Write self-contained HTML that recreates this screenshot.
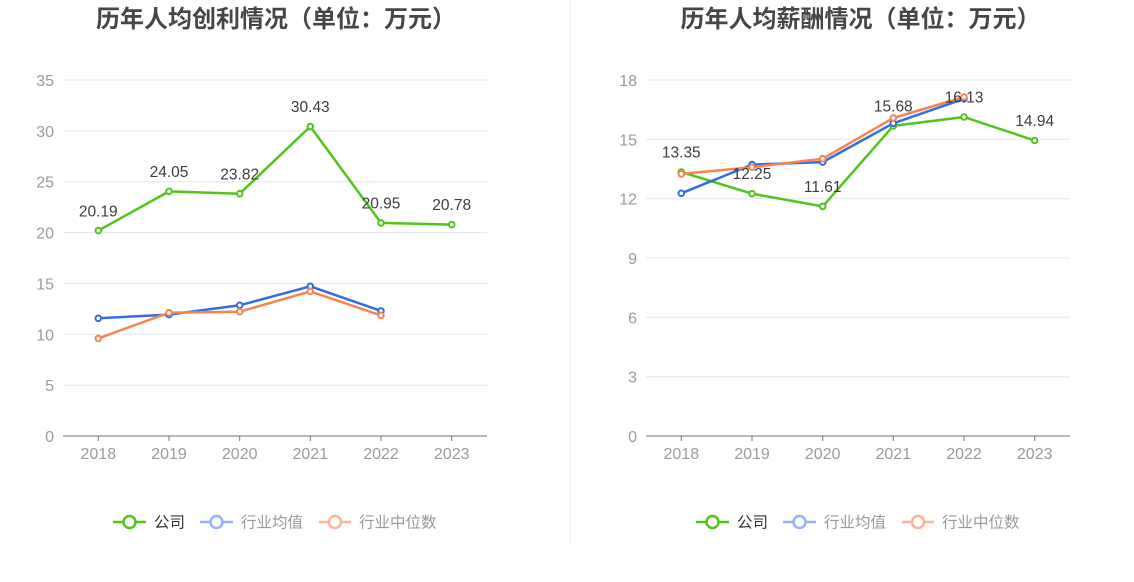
<!DOCTYPE html>
<html><head><meta charset="utf-8"><style>
html,body{margin:0;padding:0;background:#fff;}
svg{display:block;}
text{font-family:"Liberation Sans","Noto Sans CJK SC",sans-serif;}
.t{font-family:"Noto Sans CJK SC","Liberation Sans",sans-serif;font-weight:bold;font-size:24px;fill:#464646;}
.ax{font-size:16px;fill:#9a9a9a;}
.dl{font-size:15.5px;fill:#3d3d3d;}
.lg{font-family:"Liberation Sans","Noto Sans CJK SC",sans-serif;font-size:15.5px;}
.g{stroke:#e0e6f1;stroke-width:1;}
</style></head><body>
<svg width="1134" height="582" viewBox="0 0 1134 582" xmlns="http://www.w3.org/2000/svg">
<rect width="1134" height="582" fill="#fff"/>
<line x1="570" y1="0" x2="570" y2="543" stroke="#eeeeee" stroke-width="1"/>

<!-- LEFT CHART -->
<text class="t" x="276" y="27" text-anchor="middle">历年人均创利情况（单位：万元）</text>
<g>
<line class="g" x1="63" y1="80" x2="487" y2="80"/>
<line class="g" x1="63" y1="130.9" x2="487" y2="130.9"/>
<line class="g" x1="63" y1="181.7" x2="487" y2="181.7"/>
<line class="g" x1="63" y1="232.6" x2="487" y2="232.6"/>
<line class="g" x1="63" y1="283.4" x2="487" y2="283.4"/>
<line class="g" x1="63" y1="334.3" x2="487" y2="334.3"/>
<line class="g" x1="63" y1="385.1" x2="487" y2="385.1"/>
<line x1="63" y1="436" x2="487" y2="436" stroke="#6e7079" stroke-width="1"/>
<g stroke="#6e7079" stroke-width="1">
<line x1="98.3" y1="436" x2="98.3" y2="441"/><line x1="169" y1="436" x2="169" y2="441"/><line x1="239.7" y1="436" x2="239.7" y2="441"/><line x1="310.3" y1="436" x2="310.3" y2="441"/><line x1="381" y1="436" x2="381" y2="441"/><line x1="451.7" y1="436" x2="451.7" y2="441"/>
</g>
<g class="ax" text-anchor="end">
<text x="54" y="86">35</text><text x="54" y="136.9">30</text><text x="54" y="187.7">25</text><text x="54" y="238.6">20</text><text x="54" y="289.4">15</text><text x="54" y="340.3">10</text><text x="54" y="391.1">5</text><text x="54" y="442">0</text>
</g>
<g class="ax" text-anchor="middle">
<text x="98.3" y="459">2018</text><text x="169" y="459">2019</text><text x="239.7" y="459">2020</text><text x="310.3" y="459">2021</text><text x="381" y="459">2022</text><text x="451.7" y="459">2023</text>
</g>
<polyline fill="none" stroke="#52c41a" stroke-width="2.5" stroke-linejoin="round" points="98.3,230.6 169,191.4 239.7,193.7 310.3,126.5 381,222.9 451.7,224.6"/>
<polyline fill="none" stroke="#326de6" stroke-width="2.5" stroke-linejoin="round" points="98.3,318.3 169,314.6 239.7,305.3 310.3,286.3 381,310.9"/>
<polyline fill="none" stroke="#f8834f" stroke-width="2.5" stroke-linejoin="round" points="98.3,338.4 169,312.7 239.7,311.7 310.3,291.4 381,315.4"/>
<g fill="#fff" stroke="#52c41a" stroke-width="2">
<circle cx="98.3" cy="230.6" r="2.8"/><circle cx="169" cy="191.4" r="2.8"/><circle cx="239.7" cy="193.7" r="2.8"/><circle cx="310.3" cy="126.5" r="2.8"/><circle cx="381" cy="222.9" r="2.8"/><circle cx="451.7" cy="224.6" r="2.8"/>
</g>
<g fill="#fff" stroke="#326de6" stroke-width="2">
<circle cx="98.3" cy="318.3" r="2.8"/><circle cx="169" cy="314.6" r="2.8"/><circle cx="239.7" cy="305.3" r="2.8"/><circle cx="310.3" cy="286.3" r="2.8"/><circle cx="381" cy="310.9" r="2.8"/>
</g>
<g fill="#fff" stroke="#f8834f" stroke-width="2">
<circle cx="98.3" cy="338.4" r="2.8"/><circle cx="169" cy="312.7" r="2.8"/><circle cx="239.7" cy="311.7" r="2.8"/><circle cx="310.3" cy="291.4" r="2.8"/><circle cx="381" cy="315.4" r="2.8"/>
</g>
<g class="dl" text-anchor="middle">
<text x="98.3" y="216.3">20.19</text><text x="169" y="177">24.05</text><text x="239.7" y="179.3">23.82</text><text x="310.3" y="112">30.43</text><text x="381" y="208.5">20.95</text><text x="451.7" y="210.2">20.78</text>
</g>
</g>
<!-- left legend -->
<g>
<line x1="113" y1="522" x2="146" y2="522" stroke="#52c41a" stroke-width="2.5"/>
<circle cx="129.5" cy="522" r="6" fill="#fff" stroke="#52c41a" stroke-width="2.5"/>
<text class="lg" x="154" y="527.5" fill="#333">公司</text>
<line x1="200" y1="522" x2="233" y2="522" stroke="#93b4f4" stroke-width="2.5"/>
<circle cx="216.5" cy="522" r="6" fill="#fff" stroke="#93b4f4" stroke-width="2.5"/>
<text class="lg" x="241" y="527.5" fill="#999">行业均值</text>
<line x1="319" y1="522" x2="351" y2="522" stroke="#fbb49c" stroke-width="2.5"/>
<circle cx="335" cy="522" r="6" fill="#fff" stroke="#fbb49c" stroke-width="2.5"/>
<text class="lg" x="359" y="527.5" fill="#999">行业中位数</text>
</g>

<!-- RIGHT CHART -->
<text class="t" x="860.5" y="27" text-anchor="middle">历年人均薪酬情况（单位：万元）</text>
<g>
<line class="g" x1="646" y1="80" x2="1070" y2="80"/>
<line class="g" x1="646" y1="139.3" x2="1070" y2="139.3"/>
<line class="g" x1="646" y1="198.7" x2="1070" y2="198.7"/>
<line class="g" x1="646" y1="258" x2="1070" y2="258"/>
<line class="g" x1="646" y1="317.3" x2="1070" y2="317.3"/>
<line class="g" x1="646" y1="376.7" x2="1070" y2="376.7"/>
<line x1="646" y1="436" x2="1070" y2="436" stroke="#6e7079" stroke-width="1"/>
<g stroke="#6e7079" stroke-width="1">
<line x1="681.3" y1="436" x2="681.3" y2="441"/><line x1="752" y1="436" x2="752" y2="441"/><line x1="822.7" y1="436" x2="822.7" y2="441"/><line x1="893.3" y1="436" x2="893.3" y2="441"/><line x1="964" y1="436" x2="964" y2="441"/><line x1="1034.7" y1="436" x2="1034.7" y2="441"/>
</g>
<g class="ax" text-anchor="end">
<text x="637" y="86">18</text><text x="637" y="145.3">15</text><text x="637" y="204.7">12</text><text x="637" y="264">9</text><text x="637" y="323.3">6</text><text x="637" y="382.7">3</text><text x="637" y="442">0</text>
</g>
<g class="ax" text-anchor="middle">
<text x="681.3" y="459">2018</text><text x="752" y="459">2019</text><text x="822.7" y="459">2020</text><text x="893.3" y="459">2021</text><text x="964" y="459">2022</text><text x="1034.7" y="459">2023</text>
</g>
<polyline fill="none" stroke="#52c41a" stroke-width="2.5" stroke-linejoin="round" points="681.3,172 752,193.7 822.7,206.4 893.3,125.9 964,117 1034.7,140.5"/>
<polyline fill="none" stroke="#326de6" stroke-width="2.5" stroke-linejoin="round" points="681.3,193.3 752,164.6 822.7,162.1 893.3,123.3 964,98.8"/>
<polyline fill="none" stroke="#f8834f" stroke-width="2.5" stroke-linejoin="round" points="681.3,173.9 752,167.2 822.7,158.7 893.3,118 964,97"/>
<g fill="#fff" stroke="#52c41a" stroke-width="2">
<circle cx="681.3" cy="172" r="2.8"/><circle cx="752" cy="193.7" r="2.8"/><circle cx="822.7" cy="206.4" r="2.8"/><circle cx="893.3" cy="125.9" r="2.8"/><circle cx="964" cy="117" r="2.8"/><circle cx="1034.7" cy="140.5" r="2.8"/>
</g>
<g fill="#fff" stroke="#326de6" stroke-width="2">
<circle cx="681.3" cy="193.3" r="2.8"/><circle cx="752" cy="164.6" r="2.8"/><circle cx="822.7" cy="162.1" r="2.8"/><circle cx="893.3" cy="123.3" r="2.8"/><circle cx="964" cy="98.8" r="2.8"/>
</g>
<g fill="#fff" stroke="#f8834f" stroke-width="2">
<circle cx="681.3" cy="173.9" r="2.8"/><circle cx="752" cy="167.2" r="2.8"/><circle cx="822.7" cy="158.7" r="2.8"/><circle cx="893.3" cy="118" r="2.8"/><circle cx="964" cy="97" r="2.8"/>
</g>
<g class="dl" text-anchor="middle">
<text x="681.3" y="157.5">13.35</text><text x="752" y="179.2">12.25</text><text x="822.7" y="191.9">11.61</text><text x="893.3" y="111.4">15.68</text><text x="964" y="102.5">16.13</text><text x="1034.7" y="126">14.94</text>
</g>
</g>
<!-- right legend -->
<g>
<line x1="696" y1="522" x2="729" y2="522" stroke="#52c41a" stroke-width="2.5"/>
<circle cx="712.5" cy="522" r="6" fill="#fff" stroke="#52c41a" stroke-width="2.5"/>
<text class="lg" x="737" y="527.5" fill="#333">公司</text>
<line x1="783" y1="522" x2="816" y2="522" stroke="#93b4f4" stroke-width="2.5"/>
<circle cx="799.5" cy="522" r="6" fill="#fff" stroke="#93b4f4" stroke-width="2.5"/>
<text class="lg" x="824" y="527.5" fill="#999">行业均值</text>
<line x1="902" y1="522" x2="934" y2="522" stroke="#fbb49c" stroke-width="2.5"/>
<circle cx="918" cy="522" r="6" fill="#fff" stroke="#fbb49c" stroke-width="2.5"/>
<text class="lg" x="942" y="527.5" fill="#999">行业中位数</text>
</g>
</svg>
</body></html>
